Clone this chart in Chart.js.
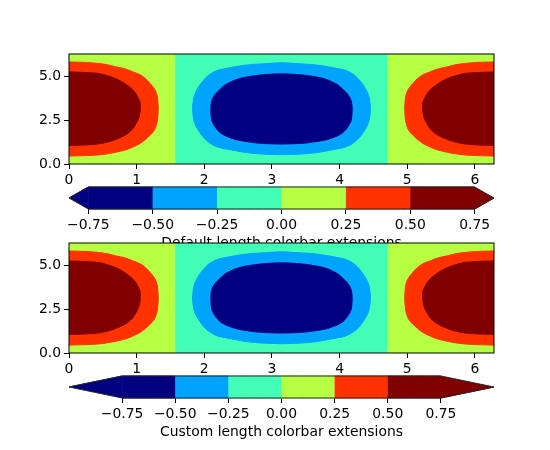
<!DOCTYPE html>
<html><head><meta charset="utf-8">
<script src="https://cdn.jsdelivr.net/npm/chart.js@4.4.1/dist/chart.umd.min.js"></script>
<style>
html,body{margin:0;padding:0;background:#fff;}
#wrap{position:relative;width:550px;height:450px;overflow:hidden;}
canvas{position:absolute;left:0;top:0;}
</style></head><body>
<div id="wrap">
<canvas id="c1" width="550" height="450"></canvas>
<canvas id="c2" width="550" height="450"></canvas>
<canvas id="c3" width="550" height="450"></canvas>
<canvas id="c4" width="550" height="450"></canvas>
</div>
<script>
// ---------------- data ----------------
const levels = [-0.75, -0.5, -0.25, 0, 0.25, 0.5, 0.75];
const levelColors = ['#000080', '#00a4ff', '#42ffb5', '#b6ff42', '#ff3200', '#800000'];
const underColor = '#000080';
const overColor = '#800000';
const xTicks = [0, 1, 2, 3, 4, 5, 6];
const yTicks = [0, 2.5, 5];
const domainMax = 6.2832;          // x and y both run 0 .. 2π
const zeroBandLeft = 1.5708;       // zero contour (vertical) positions
const zeroBandRight = 4.7124;
const blobCenterX = 3.1416;        // centre of the negative blob
// Contour outlines: y positions and distance from the blob's anchor
// (anchor = left/right plot edge for the positive blobs, x = π for the negative blob)
const redY = [0.45, 0.48, 0.52, 0.59, 0.67, 0.80, 0.96, 1.17, 1.40, 1.65, 1.92, 2.25, 2.58, 3.14, 3.73, 4.02, 4.31, 4.60, 4.88, 5.10, 5.27, 5.43, 5.55, 5.66, 5.74, 5.80, 5.83];
const redW = [0.00, 0.25, 0.44, 0.58, 0.69, 0.83, 0.94, 1.05, 1.13, 1.20, 1.26, 1.295, 1.31, 1.32, 1.31, 1.295, 1.26, 1.20, 1.13, 1.05, 0.94, 0.83, 0.69, 0.58, 0.44, 0.25, 0.00];
const maroonY = [1.06, 1.08, 1.15, 1.26, 1.40, 1.55, 1.72, 2.00, 2.30, 2.60, 2.97, 3.25, 3.54, 3.80, 4.02, 4.28, 4.50, 4.70, 4.88, 5.04, 5.17, 5.23, 5.26];
const maroonW = [0.00, 0.20, 0.44, 0.58, 0.69, 0.78, 0.86, 0.94, 0.99, 1.03, 1.05, 1.055, 1.05, 1.02, 0.99, 0.93, 0.86, 0.78, 0.69, 0.57, 0.44, 0.22, 0.00];
const lightBlueY = [0.53, 0.56, 0.62, 0.70, 0.77, 0.86, 0.96, 1.10, 1.25, 1.50, 1.82, 2.20, 2.58, 3.14, 3.73, 4.10, 4.50, 4.80, 5.07, 5.22, 5.36, 5.46, 5.55, 5.62, 5.68, 5.73, 5.78];
const lightBlueW = [0.00, 0.25, 0.45, 0.60, 0.69, 0.82, 0.94, 1.02, 1.08, 1.15, 1.21, 1.27, 1.30, 1.315, 1.30, 1.27, 1.21, 1.15, 1.08, 1.02, 0.94, 0.82, 0.69, 0.58, 0.45, 0.25, 0.00];
const navyY = [1.14, 1.16, 1.20, 1.25, 1.32, 1.40, 1.52, 1.63, 1.80, 2.01, 2.30, 2.58, 3.14, 3.54, 3.80, 4.02, 4.25, 4.50, 4.65, 4.79, 4.92, 5.00, 5.06, 5.12, 5.15];
const navyW = [0.00, 0.20, 0.36, 0.46, 0.58, 0.68, 0.77, 0.84, 0.91, 0.96, 1.01, 1.035, 1.045, 1.035, 1.01, 0.97, 0.91, 0.84, 0.77, 0.69, 0.58, 0.47, 0.36, 0.20, 0.00];
const extDefault = 0.075;   // 5% of the interior length
const extCustom = 0.25;     // one colour-segment long ("auto")
const cbTitles = ['Default length colorbar extensions', 'Custom length colorbar extensions'];

// ---------------- helpers ----------------
Chart.defaults.font.family = 'DejaVu Sans';
Chart.defaults.font.size = 13.9;
Chart.defaults.color = '#000';

const framePlugin = {
  id: 'frame',
  afterDraw(chart) {
    const a = chart.chartArea, ctx = chart.ctx;
    ctx.save(); ctx.strokeStyle = '#000'; ctx.lineWidth = 1;
    ctx.strokeRect(a.left, a.top, a.right - a.left, a.bottom - a.top);
    ctx.restore();
  }
};

function poly(points, color, extra) {
  return Object.assign({
    data: points, showLine: true, fill: 'shape',
    tension: 0.000001, capBezierPoints: false,
    backgroundColor: color, borderColor: color, borderWidth: 1,
    pointRadius: 0, pointHoverRadius: 0
  }, extra || {});
}
function rect(x0, x1, y0, y1) {
  return [{x:x0,y:y0},{x:x1,y:y0},{x:x1,y:y1},{x:x0,y:y1}];
}
function edgeBlob(edgeX, sign, ys, ws) {
  return ys.map((y, i) => ({x: edgeX + sign * ws[i], y}));
}
function centerBlob(cx, ys, ws) {
  const pts = [];
  ys.forEach((y, i) => pts.push({x: cx - ws[i], y}));
  for (let i = ys.length - 2; i >= 0; i--) pts.push({x: cx + ws[i], y: ys[i]});
  return pts;
}
function withOrder(list) {
  return list.map((d, i) => Object.assign(d, {order: list.length - i}));
}
const smooth = {tension: 0.3};

function plotChart(id, area) {
  const ds = withOrder([
    poly(rect(0, zeroBandLeft, 0, domainMax), levelColors[3]),
    poly(rect(zeroBandLeft, zeroBandRight, 0, domainMax), levelColors[2]),
    poly(rect(zeroBandRight, domainMax, 0, domainMax), levelColors[3]),
    poly(edgeBlob(0, 1, redY, redW), levelColors[4], smooth),
    poly(edgeBlob(domainMax, -1, redY, redW), levelColors[4], smooth),
    poly(centerBlob(blobCenterX, lightBlueY, lightBlueW), levelColors[1], smooth),
    poly(edgeBlob(0, 1, maroonY, maroonW), levelColors[5], smooth),
    poly(edgeBlob(domainMax, -1, maroonY, maroonW), levelColors[5], smooth),
    poly(centerBlob(blobCenterX, navyY, navyW), levelColors[0], smooth)
  ]);
  const tickGrid = {drawOnChartArea: false, drawTicks: true, tickLength: 5, color: '#000', lineWidth: 1};
  return new Chart(document.getElementById(id), {
    type: 'scatter',
    data: {datasets: ds},
    options: {
      responsive: false, animation: false, events: [],
      layout: {padding: {left: area.left - 40, right: 550 - area.right, top: area.top, bottom: 450 - area.bottom - 30}},
      plugins: {legend: {display: false}, tooltip: {enabled: false}},
      scales: {
        x: {
          type: 'linear', min: 0, max: domainMax, bounds: 'data',
          afterBuildTicks: s => { s.ticks = xTicks.map(v => ({value: v})); },
          afterFit: s => { s.height = 30; },
          grid: tickGrid, border: {display: false},
          ticks: {padding: 3, maxRotation: 0, autoSkip: false, callback: v => String(v)}
        },
        y: {
          type: 'linear', min: 0, max: domainMax, bounds: 'data',
          afterBuildTicks: s => { s.ticks = yTicks.map(v => ({value: v})); },
          afterFit: s => { s.width = 40; },
          grid: tickGrid, border: {display: false},
          ticks: {padding: 3, autoSkip: false, callback: v => Number(v).toFixed(1)}
        }
      }
    },
    plugins: [framePlugin]
  });
}

function colorbarChart(id, area, ext, title) {
  const lo = levels[0], hi = levels[levels.length - 1];
  const list = [];
  for (let i = 0; i < levelColors.length; i++) {
    list.push(poly(rect(levels[i], levels[i + 1], 0, 1), levelColors[i], {clip: false}));
  }
  list.push(poly([{x: lo - ext, y: 0.5}, {x: lo, y: 1}, {x: lo, y: 0}], underColor, {clip: false}));
  list.push(poly([{x: hi + ext, y: 0.5}, {x: hi, y: 0}, {x: hi, y: 1}], overColor, {clip: false}));
  list.push({
    data: [{x: lo - ext, y: 0.5}, {x: lo, y: 1}, {x: hi, y: 1}, {x: hi + ext, y: 0.5}, {x: hi, y: 0}, {x: lo, y: 0}, {x: lo - ext, y: 0.5}],
    showLine: true, fill: false, tension: 0.000001, capBezierPoints: false,
    borderColor: '#222', borderWidth: 1, pointRadius: 0, clip: false
  });
  const H = 43;
  return new Chart(document.getElementById(id), {
    type: 'scatter',
    data: {datasets: withOrder(list)},
    options: {
      responsive: false, animation: false, events: [],
      layout: {padding: {left: area.left, right: 550 - area.right, top: area.top, bottom: 450 - area.bottom - H}},
      plugins: {legend: {display: false}, tooltip: {enabled: false}},
      scales: {
        x: {
          type: 'linear', min: lo - ext, max: hi + ext, bounds: 'data',
          afterBuildTicks: s => { s.ticks = levels.map(v => ({value: v})); },
          afterFit: s => { s.height = H; },
          grid: {drawOnChartArea: false, drawTicks: true, tickLength: 5, color: '#000', lineWidth: 1},
          border: {display: false},
          ticks: {padding: 3, maxRotation: 0, autoSkip: false,
            callback: v => (v < 0 ? '\u2212' : '') + Math.abs(v).toFixed(2)},
          title: {display: true, text: title, color: '#000', padding: {top: 0, bottom: 0}}
        },
        y: {type: 'linear', min: 0, max: 1, display: false}
      }
    }
  });
}

plotChart('c1', {left: 69, right: 494, top: 54, bottom: 164});
colorbarChart('c2', {left: 69, right: 494, top: 187, bottom: 209}, extDefault, cbTitles[0]);
plotChart('c3', {left: 69, right: 494, top: 243, bottom: 353});
colorbarChart('c4', {left: 69, right: 494, top: 376, bottom: 398}, extCustom, cbTitles[1]);
</script>
</body></html>
